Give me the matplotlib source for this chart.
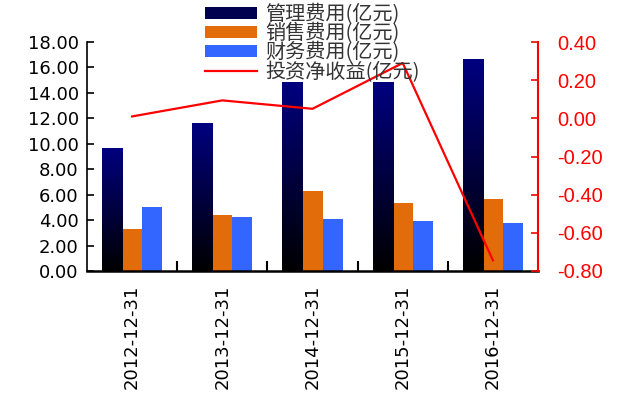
import numpy as np
import matplotlib
matplotlib.use("Agg")
import matplotlib.pyplot as plt
from matplotlib.colors import LinearSegmentedColormap
from matplotlib.patches import Patch
from matplotlib.lines import Line2D

plt.rcParams['font.family'] = ['Noto Sans CJK SC', 'DejaVu Sans']

# Data (亿元)
dates = ["2012-12-31", "2013-12-31", "2014-12-31", "2015-12-31", "2016-12-31"]
admin_exp = [9.59, 11.63, 14.78, 14.78, 16.59]      # 管理费用
sales_exp = [3.30, 4.40, 6.29, 5.35, 5.66]          # 销售费用
fin_exp = [5.03, 4.25, 4.09, 3.93, 3.77]            # 财务费用
invest_income = [0.01, 0.094, 0.05, 0.29, -0.744]   # 投资净收益

W, H = 624, 396
fig = plt.figure(figsize=(W / 100, H / 100), dpi=100)
ax = fig.add_axes([87 / W, 1 - 271 / H, (538 - 87) / W, (271 - 42) / H])

x = np.arange(len(dates))
bw = 2 / 9
navy_cmap = LinearSegmentedColormap.from_list("navy_grad", ["#000000", "#000080"])
grad = np.linspace(0, 1, 256).reshape(-1, 1)

bars1 = ax.bar(x - bw, admin_exp, bw, color="#000060", zorder=2)
for b in bars1:
    x0, y0 = b.get_x(), b.get_y()
    ax.imshow(grad, cmap=navy_cmap, origin="lower", aspect="auto",
              extent=[x0, x0 + b.get_width(), y0, y0 + b.get_height()], zorder=3)
    b.set_visible(False)
ax.bar(x, sales_exp, bw, color="#E36C0A", zorder=2)
ax.bar(x + bw, fin_exp, bw, color="#3366FF", zorder=2)

ax.set_xlim(-0.5, len(dates) - 0.5)
ax.set_ylim(0, 18)
lt = np.arange(0, 18.01, 2)
ax.set_yticks(lt)
ax.set_yticklabels([f"{v:.2f}" for v in lt], family="DejaVu Sans", fontsize=13)
ax.set_xticks(x)
ax.set_xticklabels(dates, rotation=90, family="DejaVu Sans", fontsize=13)
ax.set_xticks(np.arange(0.5, len(dates) - 0.5, 1), minor=True)
ax.tick_params(axis="x", which="major", length=0, pad=10)
ax.tick_params(axis="x", which="minor", direction="in", length=7, width=1.5)
ax.tick_params(axis="y", direction="in", length=5, width=1.2, pad=6)
for s in ["top", "right"]:
    ax.spines[s].set_visible(False)
ax.spines["left"].set_linewidth(1.2)
ax.spines["bottom"].set_linewidth(1.8)

ax2 = ax.twinx()
ax2.plot(x, invest_income, color="#FF0000", lw=1.6, zorder=5)
ax2.set_ylim(-0.8, 0.4)
rt = np.round(np.arange(-0.8, 0.401, 0.2), 2) + 0.0
ax2.set_yticks(rt)
ax2.set_yticklabels([f"{v:.2f}" if abs(v) > 1e-9 else "0.00" for v in rt],
                    family="Liberation Sans", fontsize=14.5, color="#FF0000")
ax2.tick_params(axis="y", direction="in", length=5, width=1.2, color="#FF0000", pad=14)
for s in ["top", "left", "bottom"]:
    ax2.spines[s].set_visible(False)
ax2.spines["right"].set_color("#FF0000")
ax2.spines["right"].set_linewidth(1.5)

handles = [
    Patch(facecolor="#000050"),
    Patch(facecolor="#E36C0A"),
    Patch(facecolor="#3366FF"),
    Line2D([], [], color="#FF0000", lw=1.6),
]
labels = ["管理费用(亿元)", "销售费用(亿元)", "财务费用(亿元)", "投资净收益(亿元)"]
fig.legend(handles, labels, loc="upper left", bbox_to_anchor=(205 / W, 1 - 4 / H),
           frameon=False, fontsize=14.5, borderpad=0, borderaxespad=0,
           handlelength=2.6, handleheight=0.55, handletextpad=0.4,
           labelspacing=-0.1, labelcolor="#333333")

fig.savefig("out.png", dpi=100)
